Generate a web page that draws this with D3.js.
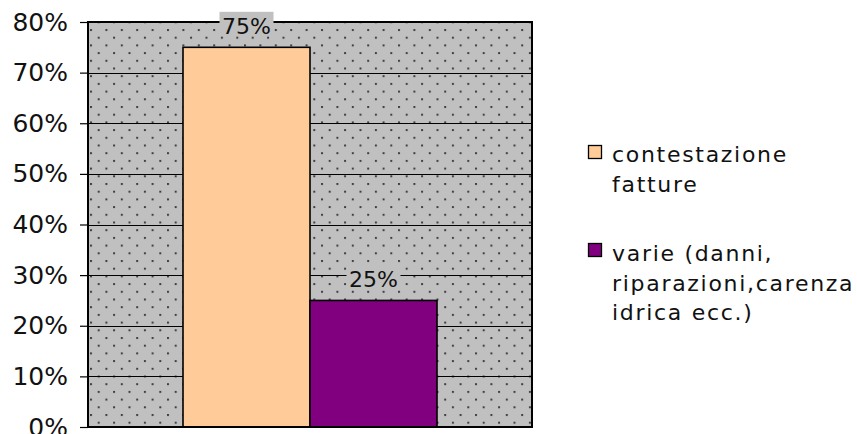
<!DOCTYPE html>
<html>
<head>
<meta charset="utf-8">
<script src="https://cdn.jsdelivr.net/npm/d3@7"></script>
<style>
  body { margin: 0; background: #fff; }
  svg { display: block; }
</style>
</head>
<body>
<div id="chart"></div>
<script>
// data
const categories = ["reclami"];
const seriesNames = ["contestazione fatture", "varie (danni, riparazioni,carenza idrica ecc.)"];
const seriesValues = [0.75, 0.25];
const seriesColors = ["#ffcc99", "#800080"];
const legendLines = [["contestazione", "fatture"], ["varie (danni,", "riparazioni,carenza", "idrica ecc.)"]];
const yTicks = [0, 0.1, 0.2, 0.3, 0.4, 0.5, 0.6, 0.7, 0.8];

const width = 857, height = 434;
const plot = { left: 88, right: 532, top: 22, bottom: 427 };
const font = "'DejaVu Sans', Verdana, sans-serif";

const svg = d3.select("#chart").append("svg")
    .attr("width", width)
    .attr("height", height);

// dotted fill like the old excel plot area
const defs = svg.append("defs");
const pat = defs.append("pattern")
    .attr("id", "dots")
    .attr("patternUnits", "userSpaceOnUse")
    .attr("x", plot.left + 2).attr("y", plot.top + 7)
    .attr("width", 15.4).attr("height", 15.4);
pat.append("rect").attr("width", 15.4).attr("height", 15.4).attr("fill", "#c0c0c0");
pat.append("rect").attr("x", 0).attr("y", 0).attr("width", 2).attr("height", 2).attr("fill", "#404040");
pat.append("rect").attr("x", 7.7).attr("y", 7.7).attr("width", 2).attr("height", 2).attr("fill", "#404040");

const y = d3.scaleLinear().domain([0, 0.8]).range([plot.bottom, plot.top]);
const x0 = d3.scaleBand().domain(categories).range([plot.left, plot.right]).paddingInner(0).paddingOuter(0.374);
const x1 = d3.scaleBand().domain(seriesNames).range([0, x0.bandwidth()]);

svg.append("rect")
    .attr("x", plot.left).attr("y", plot.top)
    .attr("width", plot.right - plot.left).attr("height", plot.bottom - plot.top)
    .attr("fill", "url(#dots)");

// gridlines
svg.append("g")
    .selectAll("line")
    .data(yTicks.slice(1, -1))
    .enter().append("line")
    .attr("x1", plot.left).attr("x2", plot.right)
    .attr("y1", d => Math.round(y(d)) + 0.5).attr("y2", d => Math.round(y(d)) + 0.5)
    .attr("stroke", "#000").attr("stroke-width", 1);

// y axis
const yAxis = d3.axisLeft(y)
    .tickValues(yTicks)
    .tickFormat(d3.format(".0%"))
    .tickSize(8)
    .tickPadding(12);
const ag = svg.append("g")
    .attr("transform", `translate(${plot.left},0)`)
    .call(yAxis);
ag.select(".domain").remove();
ag.selectAll(".tick line").attr("stroke", "#000").attr("stroke-width", 1.2);
ag.selectAll(".tick text")
    .attr("font-family", font)
    .attr("font-size", "25px")
    .attr("fill", "#111");

// bars
const groups = svg.append("g")
    .selectAll("g")
    .data(categories)
    .enter().append("g")
    .attr("transform", d => `translate(${x0(d)},0)`);

groups.selectAll("rect")
    .data(seriesNames.map((s, i) => ({ s, v: seriesValues[i], c: seriesColors[i] })))
    .enter().append("rect")
    .attr("x", d => x1(d.s))
    .attr("y", d => y(d.v))
    .attr("width", x1.bandwidth())
    .attr("height", d => y(0) - y(d.v))
    .attr("fill", d => d.c)
    .attr("stroke", "#000")
    .attr("stroke-width", 1.6);

// plot border
svg.append("rect")
    .attr("x", plot.left).attr("y", plot.top)
    .attr("width", plot.right - plot.left).attr("height", plot.bottom - plot.top)
    .attr("fill", "none")
    .attr("stroke", "#000").attr("stroke-width", 2);

// data labels with grey box behind (drawn above the border)
const labelLayer = svg.append("g")
    .selectAll("g")
    .data(categories)
    .enter().append("g")
    .attr("transform", d => `translate(${x0(d)},0)`);
const labels = labelLayer.selectAll("g.lbl")
    .data(seriesNames.map((s, i) => ({ s, v: seriesValues[i] })))
    .enter().append("g")
    .attr("class", "lbl")
    .attr("transform", d => `translate(${x1(d.s) + x1.bandwidth() / 2},${y(d.v) - 13.5})`);
labels.append("rect")
    .attr("x", -27).attr("y", -22)
    .attr("width", 54).attr("height", 24)
    .attr("fill", "#c0c0c0");
labels.append("text")
    .attr("text-anchor", "middle")
    .attr("font-family", font)
    .attr("font-size", "22px")
    .attr("fill", "#111")
    .text(d => d3.format(".0%")(d.v));

// legend
const legend = svg.append("g").attr("transform", "translate(588,0)");
const legendY = [145, 243];
const legendBase = [17, 18];
seriesNames.forEach((s, i) => {
    const item = legend.append("g").attr("transform", `translate(0,${legendY[i]})`);
    item.append("rect")
        .attr("x", 0.5).attr("y", 0.5)
        .attr("width", 13).attr("height", 13)
        .attr("fill", seriesColors[i])
        .attr("stroke", "#000").attr("stroke-width", 1.3);
    item.selectAll("text")
        .data(legendLines[i])
        .enter().append("text")
        .attr("x", 24)
        .attr("y", (d, j) => legendBase[i] + j * 29.5)
        .attr("font-family", font)
        .attr("font-size", "22px")
        .attr("letter-spacing", "1.7px")
        .attr("fill", "#111")
        .text(d => d);
});
</script>
</body>
</html>
